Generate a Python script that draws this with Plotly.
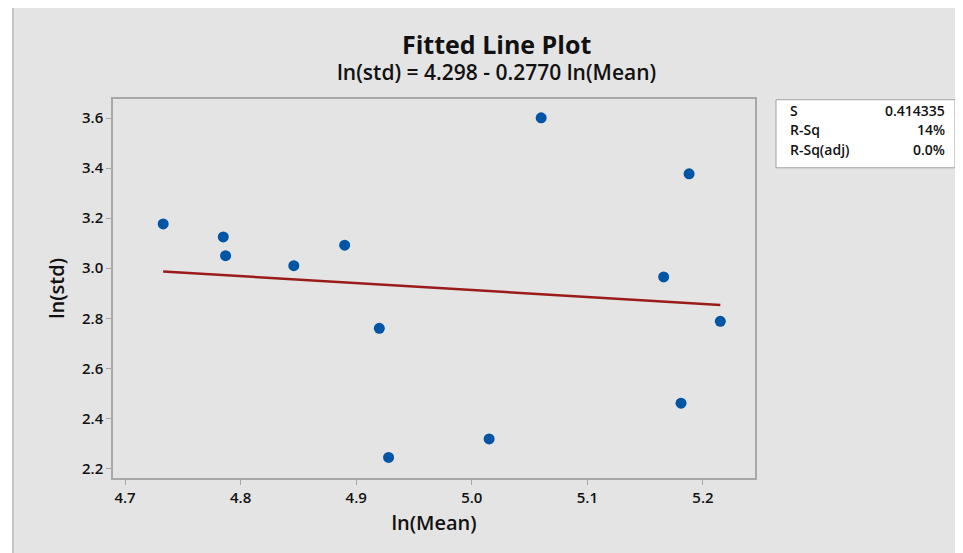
import plotly.graph_objects as go

ln_mean = [4.733, 4.785, 4.787, 4.846, 4.890, 4.920, 4.928, 5.015, 5.060, 5.166, 5.181, 5.188, 5.215]
ln_std = [3.177, 3.125, 3.050, 3.010, 3.092, 2.760, 2.244, 2.318, 3.601, 2.965, 2.461, 3.377, 2.788]

intercept = 4.298
slope = -0.2770

stat_labels = ["S", "R-Sq", "R-Sq(adj)"]
stat_values = ["0.414335", "14%", "0.0%"]

x_ticks = [4.7, 4.8, 4.9, 5.0, 5.1, 5.2]
y_ticks = [2.2, 2.4, 2.6, 2.8, 3.0, 3.2, 3.4, 3.6]

FONT = "Open Sans"

# page body has an 8px margin; layout is designed in reference pixel coords
PLOT_L, PLOT_R, PLOT_T, PLOT_B = 113, 755, 99.3, 477.7
PW, PH = PLOT_R - PLOT_L, PLOT_B - PLOT_T


def px(x):
    return (x - PLOT_L) / PW


def py(y):
    return (PLOT_B - y) / PH


fit_x = [min(ln_mean), max(ln_mean)]
fit_y = [intercept + slope * v for v in fit_x]

fig = go.Figure()
fig.add_trace(go.Scatter(x=fit_x, y=fit_y, mode="lines",
                         line=dict(color="#9b1b1b", width=2.5),
                         hoverinfo="skip", showlegend=False))
fig.add_trace(go.Scatter(x=ln_mean, y=ln_std, mode="markers",
                         marker=dict(color="#0055a5", size=11, line=dict(width=0)),
                         showlegend=False))

# outer gray frame
fig.add_shape(type="rect", xref="paper", yref="paper",
              x0=px(13), x1=px(1000), y0=py(600), y1=py(6),
              fillcolor="#e4e4e4", line=dict(color="#c4c4c4", width=2),
              layer="below")

# stats box
fig.add_shape(type="rect", xref="paper", yref="paper",
              x0=px(776), x1=px(955), y0=py(168), y1=py(100),
              fillcolor="white", line=dict(color="#a0a0a0", width=1))
row_y = [111, 130, 150]
for lab, val, yy in zip(stat_labels, stat_values, row_y):
    fig.add_annotation(x=px(788), y=py(yy), xref="paper", yref="paper", text=lab,
                       showarrow=False, xanchor="left", yanchor="middle",
                       font=dict(family=FONT, size=14, color="#111", weight=600))
    fig.add_annotation(x=px(947), y=py(yy), xref="paper", yref="paper", text=val,
                       showarrow=False, xanchor="right", yanchor="middle",
                       font=dict(family=FONT, size=14, color="#111", weight=600))

# titles
fig.add_annotation(x=px(497), y=py(44), xref="paper", yref="paper",
                   text="Fitted Line Plot", showarrow=False, xanchor="center", yanchor="middle",
                   font=dict(family=FONT, size=25, color="#111", weight=700))
fig.add_annotation(x=px(497), y=py(72), xref="paper", yref="paper",
                   text="ln(std) = 4.298 - 0.2770 ln(Mean)", showarrow=False,
                   xanchor="center", yanchor="middle",
                   font=dict(family=FONT, size=21, color="#111", weight=600))

W, H = 963 - 8, 553 - 8
fig.update_layout(
    width=W, height=H,
    margin=dict(l=PLOT_L - 8, r=W - (PLOT_R - 8), t=PLOT_T - 8, b=H - (PLOT_B - 8)),
    paper_bgcolor="white", plot_bgcolor="white",
    font=dict(family=FONT, color="#111"),
    xaxis=dict(range=[4.6896, 5.245], tickvals=x_ticks, ticktext=[f"{v:.1f}" for v in x_ticks],
               showgrid=False, zeroline=False, showline=True, linecolor="#a8a8a8", linewidth=1.5,
               mirror=True, ticks="outside", ticklen=5, tickcolor="#a8a8a8",
               tickfont=dict(family=FONT, size=15, color="#111", weight=600),
               title=dict(text="ln(Mean)", font=dict(family=FONT, size=20, color="#111", weight=600),
                          standoff=10)),
    yaxis=dict(range=[2.162, 3.676], tickvals=y_ticks, ticktext=[f"{v:.1f}" for v in y_ticks],
               showgrid=False, zeroline=False, showline=True, linecolor="#a8a8a8", linewidth=1.5,
               mirror=True, ticks="outside", ticklen=5, tickcolor="#a8a8a8",
               tickfont=dict(family=FONT, size=15, color="#111", weight=600),
               title=dict(text="ln(std)", font=dict(family=FONT, size=20, color="#111", weight=600),
                          standoff=12)),
)

fig.write_html("out.html")
